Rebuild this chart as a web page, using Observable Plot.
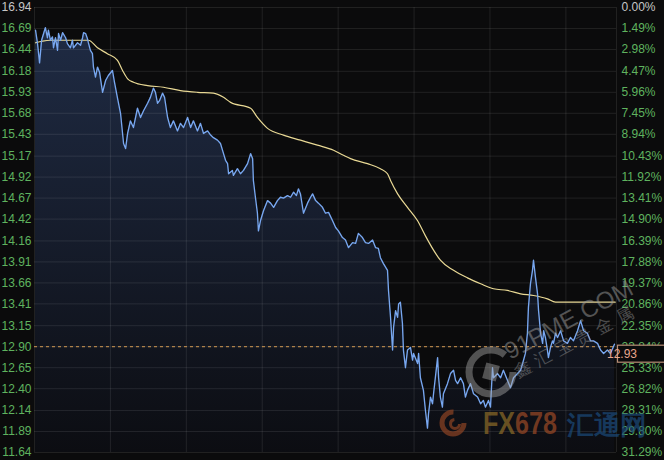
<!DOCTYPE html>
<html>
<head>
<meta charset="utf-8">
<script src="https://cdn.jsdelivr.net/npm/d3@7"></script>
<script src="https://cdn.jsdelivr.net/npm/@observablehq/plot@0.6"></script>
<style>
  html, body { margin: 0; padding: 0; background: #0b0b0c; }
  #wrap { position: relative; width: 664px; height: 460px; overflow: hidden; }
  #wm { position: absolute; left: 0; top: 0; pointer-events: none; }
</style>
</head>
<body>
<div id="wrap"></div>
<script>
// ---- Left axis (price) tick labels and right axis (drawdown from high) labels ----
const priceLabels = ["16.94","16.69","16.44","16.18","15.93","15.68","15.43","15.17","14.92","14.67","14.42",
                     "14.16","13.91","13.66","13.41","13.15","12.90","12.65","12.40","12.14","11.89","11.64"];
const pctLabels = ["0.00%","1.49%","2.98%","4.47%","5.96%","7.45%","8.94%","10.43%","11.92%","13.41%","14.90%",
                   "16.39%","17.88%","19.37%","20.86%","22.35%","23.84%","25.33%","26.82%","28.31%","29.80%","31.29%"];

// ---- Time grid (minutes since open) ----
const sessionMinutes = 230;
const gridMinutes = [0, 30, 60, 90, 120, 150, 180, 210, 230];

// ---- Price series (minutes since open, price) ----
const minutes = [
  0.4,1.2,2.0,2.8,3.6,4.3,5.1,5.5,6.3,7.1,
  7.5,8.3,9.1,9.5,10.3,11.1,12.3,13.0,14.2,15.0,
  15.4,17.0,18.2,19.0,19.4,20.2,20.9,21.3,22.1,22.9,
  23.3,24.1,24.9,25.7,26.9,28.1,29.2,30.8,31.6,32.8,
  34.0,35.2,36.0,36.8,37.9,39.1,40.7,41.9,43.1,44.7,
  45.8,47.0,47.8,48.6,49.4,50.6,51.4,52.6,53.7,54.9,
  56.5,57.7,58.9,60.5,61.7,62.8,64.4,65.6,66.8,68.4,
  69.6,70.7,72.3,73.5,74.7,75.5,76.3,76.7,78.2,78.6,
  80.2,81.4,82.6,84.2,85.4,86.2,86.5,87.3,88.1,88.5,
  89.3,90.5,92.1,93.3,94.5,96.0,97.2,98.4,100.0,101.2,
  102.4,103.5,104.3,105.1,106.3,107.9,109.1,109.9,111.1,112.2,
  113.8,115.0,116.2,117.8,119.0,120.1,121.7,122.9,124.1,125.7,
  126.9,128.0,129.6,130.8,132.0,133.6,134.8,135.9,136.7,137.9,
  139.5,139.9,140.7,141.5,141.9,142.7,143.5,143.9,144.6,145.4,
  145.8,146.6,147.4,148.6,149.4,149.8,151.4,151.8,152.5,153.7,
  154.5,155.3,155.7,156.5,157.3,157.7,159.3,159.7,160.4,161.2,
  161.6,163.2,164.4,165.6,166.4,167.2,168.4,169.5,170.3,171.1,
  172.3,173.5,175.1,176.3,177.4,178.2,179.4,180.2,181.0,181.4,
  183.0,184.2,185.3,186.9,188.1,189.3,190.9,192.1,192.9,194.0,
  194.8,195.2,196.0,196.8,197.2,198.0,198.8,199.2,200.0,200.8,
  201.2,201.9,202.7,203.1,203.9,204.7,205.1,205.9,206.7,207.9,
  209.1,210.6,211.8,213.0,214.6,215.8,217.0,218.5,219.7,220.9,
  222.5,223.7,224.9,226.4,227.6,229.2
];
const prices = [
  16.67,16.51,16.28,16.55,16.63,16.70,16.58,16.67,16.55,16.59,
  16.46,16.58,16.43,16.63,16.55,16.64,16.58,16.51,16.46,16.55,
  16.46,16.52,16.49,16.58,16.64,16.63,16.57,16.52,16.43,16.39,
  16.23,16.11,16.23,16.17,15.93,16.07,16.13,16.19,16.05,15.86,
  15.68,15.32,15.26,15.44,15.59,15.51,15.74,15.63,15.71,15.80,
  15.87,15.98,15.93,15.80,15.83,15.92,15.87,15.63,15.51,15.59,
  15.47,15.56,15.51,15.63,15.51,15.59,15.47,15.56,15.44,15.47,
  15.42,15.39,15.36,15.32,15.20,15.12,15.08,14.96,15.00,14.94,
  15.02,14.96,15.00,15.08,15.20,15.14,14.88,14.68,14.49,14.28,
  14.40,14.52,14.64,14.61,14.56,14.64,14.68,14.67,14.70,14.68,
  14.74,14.70,14.78,14.72,14.49,14.61,14.68,14.72,14.64,14.61,
  14.56,14.49,14.50,14.40,14.32,14.28,14.20,14.17,14.08,14.14,
  14.13,14.25,14.20,14.14,14.13,14.17,14.08,14.07,13.96,13.89,
  13.81,13.57,13.25,12.86,13.13,13.33,13.25,13.41,13.43,13.18,
  12.86,12.65,12.86,12.89,12.74,12.82,12.70,12.82,12.53,12.38,
  12.14,11.93,12.10,12.30,12.22,12.34,12.77,12.53,12.30,12.18,
  12.34,12.46,12.58,12.62,12.50,12.46,12.53,12.46,12.30,12.38,
  12.46,12.34,12.30,12.22,12.26,12.18,12.26,12.18,12.65,12.53,
  12.58,12.53,12.62,12.50,12.41,12.53,12.58,12.62,12.70,12.82,
  13.06,13.37,13.65,13.81,13.93,13.72,13.53,13.33,13.06,12.94,
  13.09,13.01,12.86,12.77,12.89,12.97,12.94,13.06,13.01,13.09,
  12.97,12.94,13.01,12.97,13.09,13.21,13.09,13.06,12.97,12.97,
  12.94,12.86,12.82,12.86,12.82,12.93
];

// ---- Average price series ----
const avgMinutes = [0.4,3.2,6.3,14.2,21.3,24.9,28.8,32.8,34.8,36.8,39.1,44.7,51.0,57.7,64.4,70.7,74.7,77.5,
  85.4,88.1,92.1,98.4,105.1,111.8,118.2,122.1,124.9,131.6,136.7,139.5,140.7,143.5,147.4,151.4,154.5,157.7,
  160.4,165.6,171.1,176.3,181.4,186.9,192.1,197.2,202.7,205.9,215.8,229.5];
const avgPrices = [16.52,16.54,16.55,16.55,16.55,16.46,16.39,16.31,16.19,16.09,16.05,16.01,15.99,15.95,15.93,15.92,15.87,15.81,
  15.74,15.63,15.50,15.42,15.36,15.30,15.24,15.18,15.14,15.08,15.02,14.96,14.88,14.72,14.56,14.40,14.22,14.05,
  13.93,13.81,13.72,13.65,13.59,13.57,13.53,13.51,13.47,13.43,13.43,13.43];

const prevClose = 12.90;

// ---- build ----
if (minutes.length !== prices.length) console.warn("length mismatch", minutes.length, prices.length);
const blue = minutes.map((t, i) => ({t, p: prices[i]}));
const avg = avgMinutes.map((t, i) => ({t, p: avgPrices[i]}));
const ticks = priceLabels.map(Number);
const yMax = ticks[0], yMin = ticks[ticks.length - 1];
const lastPrice = prices[prices.length - 1];
const idx = d3.range(priceLabels.length);

const GREEN = "#5fb35f", GRAY = "#c6c6c6", BG = "#0b0b0c";
const FONT = "'Liberation Sans', Arial, sans-serif";

const chart = Plot.plot({
  width: 664, height: 460,
  marginLeft: 34, marginRight: 48, marginTop: 7, marginBottom: 8,
  style: {background: BG, fontFamily: FONT, overflow: "visible"},
  x: {domain: [0, sessionMinutes], axis: null},
  y: {domain: [yMin, yMax], axis: null},
  marks: [
    Plot.areaY(blue, {x: "t", y1: () => yMin, y2: "p", fill: "url(#blueFill)"}),
    Plot.ruleY(ticks, {stroke: "#ffffff", strokeOpacity: 0.09}),
    Plot.ruleX(gridMinutes, {stroke: "#ffffff", strokeOpacity: 0.09}),
    Plot.ruleY([prevClose], {stroke: "#d39a52", strokeDasharray: "3,3", strokeWidth: 1}),
    Plot.line(avg, {x: "t", y: "p", stroke: "#e9d995", strokeWidth: 1.2, curve: "monotone-x"}),
    Plot.line(blue, {x: "t", y: "p", stroke: "#78a7f0", strokeWidth: 1.35}),
    Plot.text(idx, {filter: i => i === 0, y: i => ticks[i], text: i => priceLabels[i], frameAnchor: "left",
      textAnchor: "end", dx: -3, fontSize: 12, fill: GRAY}),
    Plot.text(idx, {filter: i => i > 0, y: i => ticks[i], text: i => priceLabels[i], frameAnchor: "left",
      textAnchor: "end", dx: -3, fontSize: 12, fill: GREEN}),
    Plot.text(idx, {filter: i => i === 0, y: i => ticks[i], text: i => pctLabels[i], frameAnchor: "right",
      textAnchor: "start", dx: 5, fontSize: 12, fill: GRAY}),
    Plot.text(idx, {filter: i => i > 0, y: i => ticks[i], text: i => pctLabels[i], frameAnchor: "right",
      textAnchor: "start", dx: 5, fontSize: 12, fill: GREEN}),
    (index, scales, values, dims) => {
      const y = scales.y(lastPrice);
      const x0 = dims.width - dims.marginRight + 1.5;
      const g = d3.create("svg:g");
      g.append("rect").attr("x", x0).attr("y", y + 1.5).attr("width", 60).attr("height", 17)
        .attr("fill", BG).attr("stroke", "#b98e76").attr("stroke-width", 1.2);
      g.append("text").attr("x", x0 + 4.5).attr("y", y + 10).attr("dy", "0.35em")
        .attr("font-size", 12).attr("font-family", FONT).attr("fill", "#e8a68c")
        .text(lastPrice.toFixed(2));
      return g.node();
    }
  ]
});

d3.select(chart).insert("defs", ":first-child").html(
  `<linearGradient id="blueFill" x1="0" y1="0" x2="0" y2="1">
     <stop offset="0" stop-color="#1f2b44"/>
     <stop offset="1" stop-color="#0c0d12"/>
   </linearGradient>`);

const wrap = document.getElementById("wrap");
wrap.appendChild(chart);

// ---- watermarks ----
wrap.insertAdjacentHTML("beforeend", `
<svg id="wm" width="664" height="460" font-family="${FONT}">
  <g opacity="0.45">
    <circle cx="491" cy="372" r="22" fill="none" stroke="#a8a8a8" stroke-width="7" stroke-dasharray="118 20"/>
    <rect x="484" y="364" width="14" height="16" fill="#a8a8a8" transform="rotate(15 491 372)"/>
  </g>
  <text transform="translate(510,360) rotate(-28)" font-size="24" fill="#9a9a9a" opacity="0.5">91PME.COM</text>
  <text transform="translate(518,378) rotate(-28)" font-size="17" fill="#9a9a9a" opacity="0.45" letter-spacing="6">鑫汇宝贵金属</text>
  <g opacity="0.7">
    <circle cx="453" cy="423" r="11" fill="none" stroke="#8e4424" stroke-width="5" stroke-dasharray="52 17"/>
    <circle cx="455" cy="424" r="4.5" fill="none" stroke="#8e4424" stroke-width="3" stroke-dasharray="20 8"/>
    <text x="483" y="434" font-size="32" font-weight="bold" textLength="74" lengthAdjust="spacingAndGlyphs"><tspan fill="#8d6c28">FX</tspan><tspan fill="#9c4a26">678</tspan></text>
    <text x="567" y="434" font-size="26" font-weight="bold" fill="#1b4a7a" textLength="80" lengthAdjust="spacingAndGlyphs">汇通网</text>
  </g>
</svg>`);
</script>
</body>
</html>
